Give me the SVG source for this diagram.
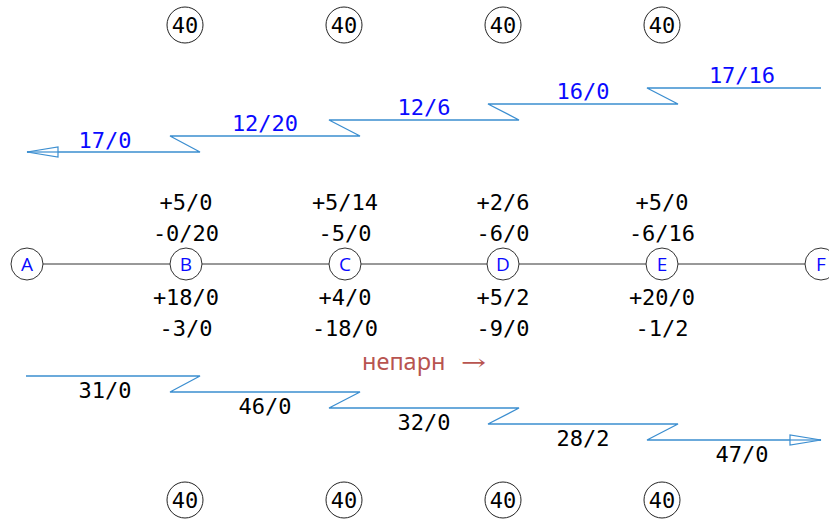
<svg xmlns="http://www.w3.org/2000/svg" width="829" height="523" viewBox="0 0 829 523">
<style>
.mono{font-family:"DejaVu Sans Mono",monospace;font-size:22px;text-anchor:middle}
.blue{fill:#0a0aff}
.blk{fill:#000}
.flow{fill:none;stroke:#3b8ed0;stroke-width:1.3}
.node circle{fill:#fff;stroke:#333;stroke-width:1}
.lab{font-family:"Open Sans",sans-serif;font-size:19px;fill:#0a0aff;text-anchor:middle}
.sig circle{fill:#fff;stroke:#222;stroke-width:1}
.sigt{font-family:"DejaVu Sans Mono",monospace;font-size:22px;text-anchor:middle;fill:#000}
</style>
<rect width="829" height="523" fill="#fff"/>
<g id="connectors">
<line x1="27" y1="264" x2="821" y2="264" stroke="#333" stroke-width="1"/>
<polyline class="flow" points="27,152 200,152 170,136 360,136 329,120 519,120 488,104 678,104 647,88 821,88"/>
<polygon points="27,152 58,147 58,157" fill="#fff" stroke="#3b8ed0" stroke-width="1.2"/>
<line x1="27" y1="152" x2="58" y2="152" stroke="#3b8ed0" stroke-width="1.2"/>
<polyline class="flow" points="26,376 200,376 170,392 360,392 329,408 519,408 488,424 678,424 647,440 821,440"/>
<polygon points="821,440 790,435 790,445" fill="#fff" stroke="#3b8ed0" stroke-width="1.2"/>
<line x1="790" y1="440" x2="821" y2="440" stroke="#3b8ed0" stroke-width="1.2"/>
</g>
<g id="top-labels" class="mono blue">
<text x="105" y="148">17/0</text>
<text x="265" y="131">12/20</text>
<text x="424" y="115">12/6</text>
<text x="583" y="99">16/0</text>
<text x="742" y="83">17/16</text>
</g>
<g id="bottom-labels" class="mono blk">
<text x="105" y="398">31/0</text>
<text x="265" y="414">46/0</text>
<text x="424" y="430">32/0</text>
<text x="583" y="446">28/2</text>
<text x="742" y="462">47/0</text>
</g>
<g id="node-A" class="node"><circle cx="27" cy="264" r="16"/><text class="lab" x="27" y="271">A</text></g>
<g id="node-B" class="node"><circle cx="186" cy="264" r="16"/><text class="lab" x="186" y="271">B</text></g>
<g id="node-C" class="node"><circle cx="345" cy="264" r="16"/><text class="lab" x="345" y="271">C</text></g>
<g id="node-D" class="node"><circle cx="503" cy="264" r="16"/><text class="lab" x="503" y="271">D</text></g>
<g id="node-E" class="node"><circle cx="662" cy="264" r="16"/><text class="lab" x="662" y="271">E</text></g>
<g id="node-F" class="node"><circle cx="821" cy="264" r="16"/><text class="lab" x="821" y="271">F</text></g>
<g id="node-labels" class="mono blk">
<text x="186" y="210">+5/0</text><text x="186" y="241">-0/20</text><text x="186" y="305">+18/0</text><text x="186" y="336">-3/0</text>
<text x="345" y="210">+5/14</text><text x="345" y="241">-5/0</text><text x="345" y="305">+4/0</text><text x="345" y="336">-18/0</text>
<text x="503" y="210">+2/6</text><text x="503" y="241">-6/0</text><text x="503" y="305">+5/2</text><text x="503" y="336">-9/0</text>
<text x="662" y="210">+5/0</text><text x="662" y="241">-6/16</text><text x="662" y="305">+20/0</text><text x="662" y="336">-1/2</text>
</g>
<g id="direction" fill="#b85450">
<text x="362" y="370" font-family="'Noto Sans',sans-serif" font-size="23.5">непарн</text>
<text x="461" y="370" font-family="'DejaVu Serif',serif" font-size="22" textLength="25" lengthAdjust="spacingAndGlyphs">→</text>
</g>
<g id="sig-top-1" class="sig"><circle cx="185" cy="25" r="18"/><text class="sigt" x="185" y="33">40</text></g>
<g id="sig-top-2" class="sig"><circle cx="344" cy="25" r="18"/><text class="sigt" x="344" y="33">40</text></g>
<g id="sig-top-3" class="sig"><circle cx="503" cy="25" r="18"/><text class="sigt" x="503" y="33">40</text></g>
<g id="sig-top-4" class="sig"><circle cx="662" cy="25" r="18"/><text class="sigt" x="662" y="33">40</text></g>
<g id="sig-bot-1" class="sig"><circle cx="185" cy="500" r="18"/><text class="sigt" x="185" y="508">40</text></g>
<g id="sig-bot-2" class="sig"><circle cx="344" cy="500" r="18"/><text class="sigt" x="344" y="508">40</text></g>
<g id="sig-bot-3" class="sig"><circle cx="503" cy="500" r="18"/><text class="sigt" x="503" y="508">40</text></g>
<g id="sig-bot-4" class="sig"><circle cx="662" cy="500" r="18"/><text class="sigt" x="662" y="508">40</text></g>
</svg>
